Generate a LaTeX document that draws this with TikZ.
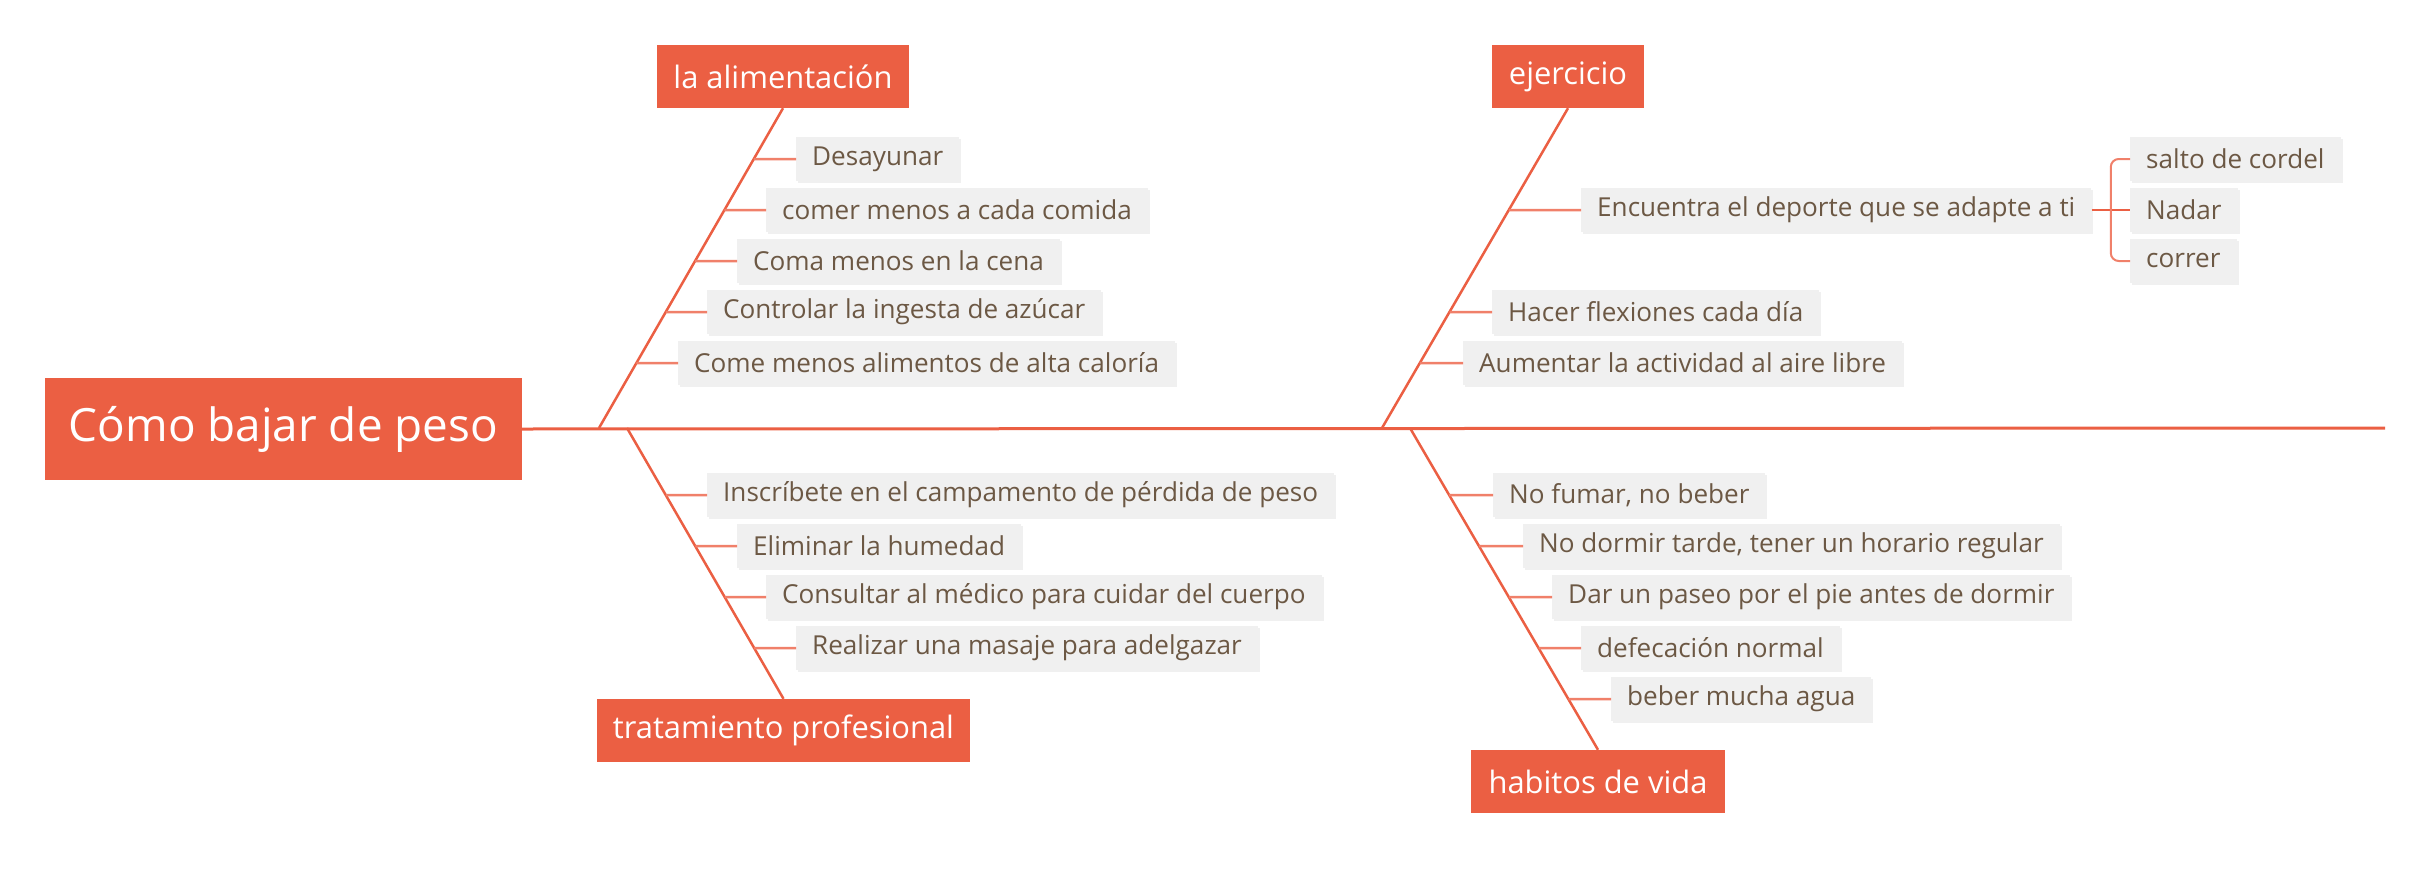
\documentclass[tikz,border=0pt]{standalone}
\usepackage{fontspec}
\setmainfont{Open Sans}
\usetikzlibrary{calc,positioning,shadows}
\definecolor{fishred}{RGB}{235,95,67}
\definecolor{twigred}{RGB}{240,128,106}
\definecolor{itemgray}{RGB}{240,240,240}
\definecolor{itemtext}{RGB}{108,88,68}
\tikzset{
headstyle/.style={
  rectangle,
  fill=fishred,
  text=white,
  inner sep=0pt,
  minimum width=477bp,
  minimum height=102bp,
  font=\fontsize{46}{50}\selectfont,
  }
}
\tikzset{
catstyle/.style={
  rectangle,
  fill=fishred,
  text=white,
  inner sep=0pt,
  minimum height=63bp,
  font=\fontsize{31}{34}\selectfont,
  }
}
\tikzset{
itemstyle/.style={
  rectangle,
  fill=itemgray,
  text=itemtext,
  anchor=west,
  inner xsep=16bp,
  inner ysep=0pt,
  minimum height=44bp,
  font=\fontsize{26.2}{29}\selectfont,
  drop shadow={opacity=0.12, shadow xshift=2bp, shadow yshift=-2bp},
  }
}
\tikzset{
boneline/.style={
  line width=2.5bp,
  draw=fishred,
  }
}
\tikzset{
twigline/.style={
  line width=2.5bp,
  draw=twigred,
  }
}

\begin{document}
\begin{tikzpicture}[x=1bp,y=-1bp]
    \useasboundingbox (0,0) rectangle (2431,873);

    % head and spine
    \node[headstyle] (root) at (283.5,429) {Cómo bajar de peso};
    \coordinate (spineend) at (2385,428);
    \coordinate (ja) at (599,428);
    \coordinate (jb) at (1382,428);
    \coordinate (jc) at (627,428);
    \coordinate (jd) at (1410,428);

    % category part
    \node[catstyle, minimum width=252bp] (alim) at (783,76.5) {la alimentación};
    \node[catstyle, minimum width=152bp] (ejer) at (1568,76.5) {ejercicio};
    \node[catstyle, minimum width=373bp] (trat) at (783.5,730.5) {tratamiento profesional};
    \node[catstyle, minimum width=254bp] (habi) at (1598,781.5) {habitos de vida};

    % alimentacion items
    \node[itemstyle] (a1) at (796,159) {Desayunar};
    \node[itemstyle] (a2) at (766,210) {comer menos a cada comida};
    \node[itemstyle] (a3) at (737,261) {Coma menos en la cena};
    \node[itemstyle] (a4) at (707,312) {Controlar la ingesta de azúcar};
    \node[itemstyle] (a5) at (678,363) {Come menos alimentos de alta caloría};

    % ejercicio items
    \node[itemstyle] (e1) at (1581,210) {Encuentra el deporte que se adapte a ti};
    \node[itemstyle] (e2) at (1492,312) {Hacer flexiones cada día};
    \node[itemstyle] (e3) at (1463,363) {Aumentar la actividad al aire libre};
    \node[itemstyle] (e1a) at (2130,159) {salto de cordel};
    \node[itemstyle] (e1b) at (2130,210) {Nadar};
    \node[itemstyle] (e1c) at (2130,261) {correr};

    % tratamiento items
    \node[itemstyle] (t1) at (707,495) {Inscríbete en el campamento de pérdida de peso};
    \node[itemstyle] (t2) at (737,546) {Eliminar la humedad};
    \node[itemstyle] (t3) at (766,597) {Consultar al médico para cuidar del cuerpo};
    \node[itemstyle] (t4) at (796,648) {Realizar una masaje para adelgazar};

    % habitos items
    \node[itemstyle] (h1) at (1493,495) {No fumar, no beber};
    \node[itemstyle] (h2) at (1523,546) {No dormir tarde, tener un horario regular};
    \node[itemstyle] (h3) at (1552,597) {Dar un paseo por el pie antes de dormir};
    \node[itemstyle] (h4) at (1581,648) {defecación normal};
    \node[itemstyle] (h5) at (1611,699) {beber mucha agua};

    % spine and bones
    \draw[boneline, line width=3bp] (root.east) -- (spineend);
    \draw[boneline] (alim.south) -- (ja);
    \draw[boneline] (ejer.south) -- (jb);
    \draw[boneline] (trat.north) -- (jc);
    \draw[boneline] (habi.north) -- (jd);

    % item edges
    \draw[twigline] (intersection of alim.south--ja and a1.west--a1.east) -- (a1.west);
    \draw[twigline] (intersection of alim.south--ja and a2.west--a2.east) -- (a2.west);
    \draw[twigline] (intersection of alim.south--ja and a3.west--a3.east) -- (a3.west);
    \draw[twigline] (intersection of alim.south--ja and a4.west--a4.east) -- (a4.west);
    \draw[twigline] (intersection of alim.south--ja and a5.west--a5.east) -- (a5.west);

    \draw[twigline] (intersection of ejer.south--jb and e1.west--e1.east) -- (e1.west);
    \draw[twigline] (intersection of ejer.south--jb and e2.west--e2.east) -- (e2.west);
    \draw[twigline] (intersection of ejer.south--jb and e3.west--e3.east) -- (e3.west);

    \draw[twigline] (intersection of trat.north--jc and t1.west--t1.east) -- (t1.west);
    \draw[twigline] (intersection of trat.north--jc and t2.west--t2.east) -- (t2.west);
    \draw[twigline] (intersection of trat.north--jc and t3.west--t3.east) -- (t3.west);
    \draw[twigline] (intersection of trat.north--jc and t4.west--t4.east) -- (t4.west);

    \draw[twigline] (intersection of habi.north--jd and h1.west--h1.east) -- (h1.west);
    \draw[twigline] (intersection of habi.north--jd and h2.west--h2.east) -- (h2.west);
    \draw[twigline] (intersection of habi.north--jd and h3.west--h3.east) -- (h3.west);
    \draw[twigline] (intersection of habi.north--jd and h4.west--h4.east) -- (h4.west);
    \draw[twigline] (intersection of habi.north--jd and h5.west--h5.east) -- (h5.west);

    % sub item edges
    \coordinate (fork) at ($(e1.east)!0.5!(e1b.west)$);
    \draw[boneline] (e1.east) -- (e1b.west);
    \draw[twigline, line width=2bp, rounded corners=8bp] (e1a.west) -| (fork) |- (e1c.west);
\end{tikzpicture}
\end{document}
